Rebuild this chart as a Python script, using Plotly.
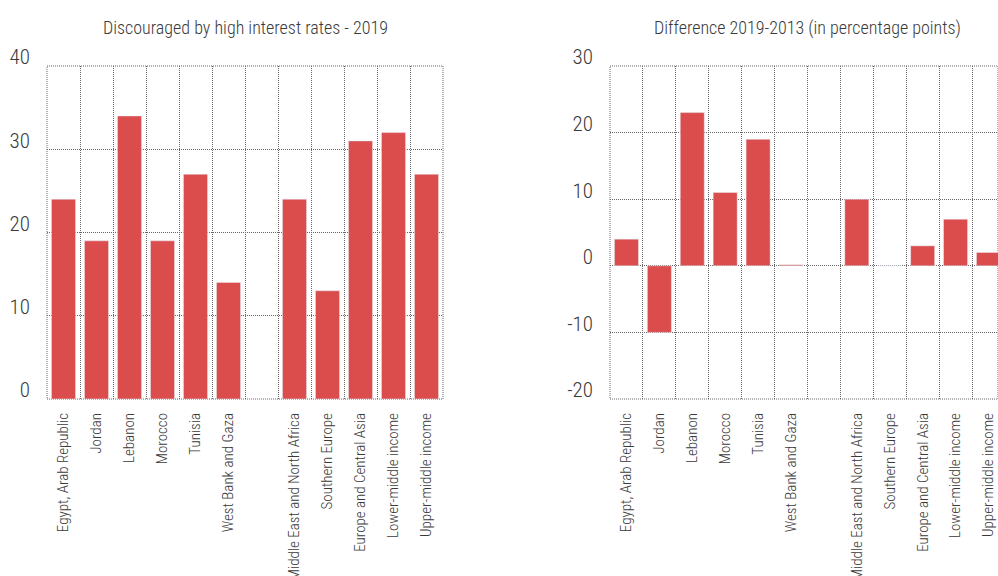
import plotly.graph_objects as go
from plotly.subplots import make_subplots

# categories (blank slot separates economies from regional / income groups)
categories = [
    "Egypt, Arab Republic", "Jordan", "Lebanon", "Morocco", "Tunisia",
    "West Bank and Gaza", " ",
    "Middle East and North Africa", "Southern Europe",
    "Europe and Central Asia", "Lower-middle income", "Upper-middle income",
]

# % of firms discouraged by high interest rates, 2019
share_2019 = [24, 19, 34, 19, 27, 14, None, 24, 13, 31, 32, 27]

# difference 2019-2013, percentage points
diff_2019_2013 = [4, -10, 23, 11, 19, 0.15, None, 10, 0, 3, 7, 2]

# y tick labels
left_ticks = [0, 10, 20, 30, 40]
right_ticks = [-20, -10, 0, 10, 20, 30]
right_ticktext = ["-20", "-10", "0", "10", "20", "30"]

W, H = 998, 576
TOP, BOT = 66, 177
BAR = "#DB4C4C"
FONT = "Roboto Condensed, Liberation Sans Narrow, sans-serif"
TXT = "#3a3a3a"
GRID = "#666666"
DASH = "1px,1px"

fig = make_subplots(rows=1, cols=2)

fig.add_trace(go.Bar(x=categories, y=share_2019, marker_color=BAR,
                     name="2019", showlegend=False), row=1, col=1)
fig.add_trace(go.Bar(x=categories, y=diff_2019_2013, marker_color=BAR,
                     name="Difference", showlegend=False), row=1, col=2)

xcommon = dict(
    type="category", tickson="boundaries", showgrid=True, gridcolor=GRID,
    griddash=DASH, gridwidth=1, tickangle=-90, ticks="", zeroline=False,
    automargin=False, ticklabelstandoff=10,
    tickfont=dict(family=FONT, size=15, color=TXT, weight=300),
)
ycommon = dict(
    showgrid=True, gridcolor=GRID, griddash=DASH, gridwidth=1,
    zeroline=False, ticks="", automargin=False,
    tickfont=dict(family=FONT, size=21, color=TXT, weight=300),
    ticklabelshift=-9, ticklabelstandoff=16,
)

fig.update_xaxes(xcommon)
fig.update_yaxes(ycommon)

fig.update_xaxes(domain=[47 / W, 443 / W], range=[-0.5, 11.5], row=1, col=1)
fig.update_xaxes(domain=[610 / W, 1.0], range=[-0.5, 11.29], row=1, col=2)
fig.update_yaxes(range=[0, 40], tickvals=left_ticks, row=1, col=1)
fig.update_yaxes(range=[-20, 30], tickvals=right_ticks,
                 ticktext=right_ticktext, row=1, col=2)

# dotted frame round each plot area (edge grid lines are not drawn by plotly)
for xr, yr in (("x", "y"), ("x2", "y2")):
    fig.add_shape(type="rect", xref=xr + " domain", yref=yr + " domain",
                  x0=0, x1=1, y0=0, y1=1,
                  line=dict(color=GRID, width=1, dash=DASH), layer="below")

plot_h = H - TOP - BOT
titles = [
    ("Discouraged by high interest rates - 2019", 245),
    ("Difference 2019-2013 (in percentage points)", 807),
]
for text, px in titles:
    fig.add_annotation(
        text=text, x=px / W, y=(H - BOT - 28) / plot_h,
        xref="paper", yref="paper", xanchor="center", yanchor="middle",
        showarrow=False, font=dict(family=FONT, size=18, color=TXT, weight=300),
    )

fig.update_layout(
    width=W, height=H,
    margin=dict(l=0, r=0, t=TOP, b=BOT),
    paper_bgcolor="white", plot_bgcolor="white",
    bargap=0.27,
    font=dict(family=FONT, color=TXT),
)

# page body has a default 8px margin; drop it so the chart fills the window
fig.write_html("out.html", config={"displayModeBar": False},
               post_script="document.body.style.margin='0px';")
